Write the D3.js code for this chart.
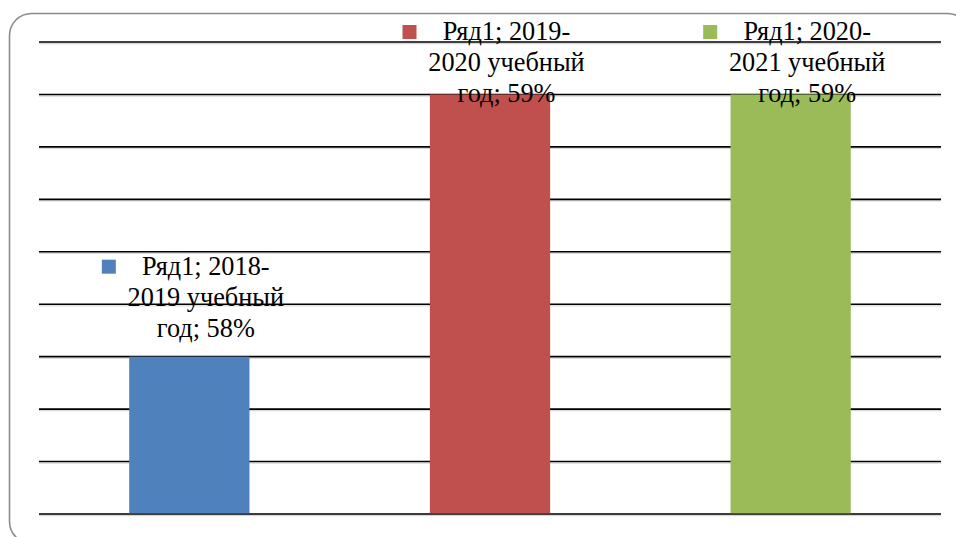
<!DOCTYPE html>
<html><head><meta charset="utf-8">
<script src="https://cdn.jsdelivr.net/npm/d3@7"></script>
<style>html,body{margin:0;padding:0;background:#fff;overflow:hidden;}svg{display:block;}</style>
</head><body>
<script>
const categories = ["2018-2019 учебный год", "2019-2020 учебный год", "2020-2021 учебный год"];
const values = [58.0, 59.0, 59.0];
const valueLabels = ["58%", "59%", "59%"];
const labelLines = [["Ряд1; 2018-", "2019 учебный", "год; 58%"],
                    ["Ряд1; 2019-", "2020 учебный", "год; 59%"],
                    ["Ряд1; 2020-", "2021 учебный", "год; 59%"]];
const colors = ["#4F81BD", "#C0504D", "#9BBB59"];
const gridTicks = [57.4, 57.6, 57.8, 58.0, 58.2, 58.4, 58.6, 58.8, 59.0, 59.2];

const W = 956, H = 537;
const svg = d3.select("body").append("svg").attr("width", W).attr("height", H);

// frame
svg.append("rect").attr("x", 9.5).attr("y", 13.5).attr("width", 960).attr("height", 530)
  .attr("rx", 22).attr("ry", 22).attr("fill", "#fff").attr("stroke", "#8c8c8c").attr("stroke-width", 1.6);

const x = d3.scaleBand().domain(categories).range([39, 941]).paddingInner(0.6).paddingOuter(0.3);
const y = d3.scaleLinear().domain([57.4, 59.2]).range([514, 42]);

// gridlines
const g = svg.append("g");
gridTicks.forEach(t => {
  g.append("line").attr("x1", 39).attr("x2", 941).attr("y1", y(t) + 1.6).attr("y2", y(t) + 1.6)
    .attr("stroke", "#d9d9d9").attr("stroke-width", 1.2);
  g.append("line").attr("x1", 39).attr("x2", 941).attr("y1", y(t)).attr("y2", y(t))
    .attr("stroke", "#000").attr("stroke-width", 1.6);
});

// bars
svg.append("g").selectAll("rect").data(categories).join("rect")
  .attr("x", d => x(d)).attr("width", x.bandwidth())
  .attr("y", (d, i) => y(values[i])).attr("height", (d, i) => y(57.4) - y(values[i]))
  .attr("fill", (d, i) => colors[i]);

// axis line on top
svg.append("line").attr("x1", 39).attr("x2", 941).attr("y1", y(57.4)).attr("y2", y(57.4))
  .attr("stroke", "#3a3a3a").attr("stroke-width", 1.6);

// data labels
categories.forEach((c, i) => {
  const cx = x(c) + x.bandwidth() / 2 + 16.5;
  const base = Math.max(y(values[i]) - 82, 40);
  svg.append("rect").attr("x", cx - 104).attr("y", base - 15).attr("width", 14).attr("height", 14)
    .attr("fill", colors[i]);
  const t = svg.append("text").attr("text-anchor", "middle")
    .attr("font-family", "'Liberation Serif', 'Times New Roman', serif")
    .attr("font-size", 26.3).attr("fill", "#000");
  labelLines[i].forEach((ln, k) => {
    t.append("tspan").attr("x", cx).attr("y", base + k * 31).text(ln);
  });
});
</script>
</body></html>
